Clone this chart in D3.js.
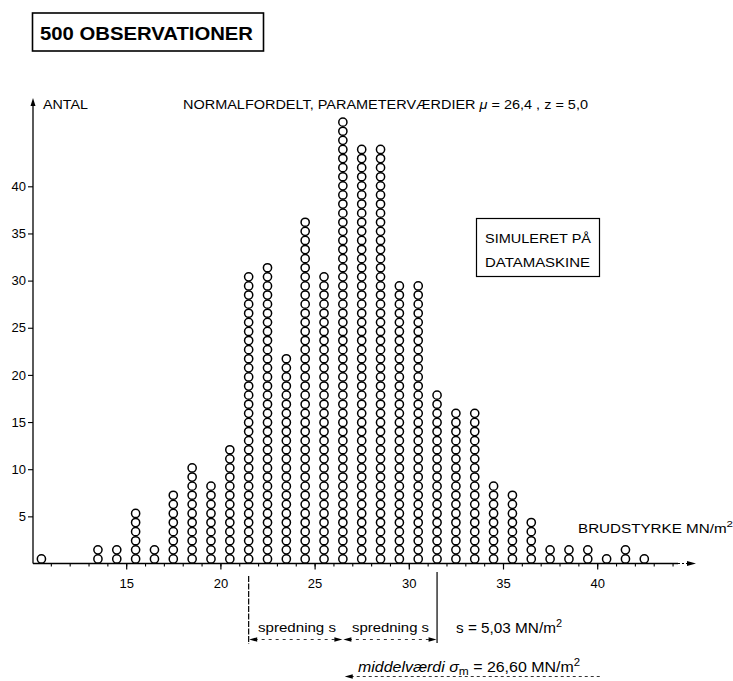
<!DOCTYPE html>
<html>
<head>
<meta charset="utf-8">
<script src="https://cdn.jsdelivr.net/npm/d3@7"></script>
<style>
  html, body { margin: 0; padding: 0; background: #fff; }
  svg { display: block; }
  text { font-family: "Liberation Sans", Arial, sans-serif; fill: #000; }
</style>
</head>
<body>
<svg id="chart" width="733" height="681"></svg>
<script>
// Class midpoints of breaking strength (MN/m²), one column of circles per class
const classMids = [10.5, 11.5, 12.5, 13.5, 14.5, 15.5, 16.5, 17.5, 18.5, 19.5, 20.5,
  21.5, 22.5, 23.5, 24.5, 25.5, 26.5, 27.5, 28.5, 29.5, 30.5, 31.5, 32.5, 33.5,
  34.5, 35.5, 36.5, 37.5, 38.5, 39.5, 40.5, 41.5, 42.5];
// Number of observations in each class (500 in total)
const counts = [1, 0, 0, 2, 2, 6, 2, 8, 11, 9, 13,
  32, 33, 23, 38, 32, 49, 46, 46, 31, 31, 19, 17, 17,
  9, 8, 5, 2, 2, 2, 1, 2, 1];
const yTicks = [5, 10, 15, 20, 25, 30, 35, 40];
const xTickLabels = [15, 20, 25, 30, 35, 40];
const xMinorTicks = d3.range(11, 45);

const mean = 26.60;     // middelværdi
const spread = 5.03;    // spredning s
const meanClass = 26.5, lowClass = 21.5, highClass = 31.5;

const svg = d3.select("#chart");

const x = d3.scaleLinear().domain([10, 44]).range([32, 32 + 34 * 18.84]);
const y = d3.scaleLinear().domain([0, 40]).range([563.5, 563.5 - 40 * 9.43]);
// vertical pitch of the stacked circles
const yStack = d3.scaleLinear().domain([0, 50]).range([563.5, 563.5 - 50 * 9.1]);

// --- title box
svg.append("rect").attr("x", 32.5).attr("y", 13).attr("width", 231).attr("height", 38)
  .attr("fill", "none").attr("stroke", "#000").attr("stroke-width", 1.6);
svg.append("text").attr("x", 40).attr("y", 40)
  .attr("font-size", 18).attr("font-weight", "bold")
  .attr("textLength", 213).attr("lengthAdjust", "spacingAndGlyphs")
  .text("500 OBSERVATIONER");

// --- header line
svg.append("text").attr("x", 43).attr("y", 108.5).attr("font-size", 12)
  .attr("textLength", 45).attr("lengthAdjust", "spacingAndGlyphs").text("ANTAL");
const head = svg.append("text").attr("x", 183).attr("y", 108.5).attr("font-size", 12.5)
  .attr("textLength", 405).attr("lengthAdjust", "spacingAndGlyphs");
head.append("tspan").text("NORMALFORDELT, PARAMETERVÆRDIER  ");
head.append("tspan").attr("font-style", "italic").text("μ");
head.append("tspan").text(" = 26,4 ,  z = 5,0");

// --- y axis
svg.append("line").attr("x1", 33).attr("x2", 33).attr("y1", y(0)).attr("y2", 104)
  .attr("stroke", "#000").attr("stroke-width", 1.3);
svg.append("path").attr("d", "M33,98 L30.5,106 L35.5,106 Z").attr("fill", "#000");
const yAxis = d3.axisLeft(y).tickValues(yTicks).tickSize(5).tickPadding(2);
const gy = svg.append("g").attr("transform", "translate(33,0)").call(yAxis);
gy.select(".domain").remove();
gy.selectAll(".tick line").attr("stroke", "#000").attr("stroke-width", 1.1);
gy.selectAll(".tick text").attr("font-size", 13).attr("font-family", "Liberation Sans, Arial, sans-serif")
  .attr("fill", "#000");

// --- x axis
svg.append("line").attr("x1", 33).attr("x2", 678).attr("y1", y(0)).attr("y2", y(0))
  .attr("stroke", "#000").attr("stroke-width", 1.3);
svg.append("line").attr("x1", 678).attr("x2", 688).attr("y1", y(0)).attr("y2", y(0))
  .attr("stroke", "#000").attr("stroke-width", 1).attr("stroke-dasharray", "2,2");
svg.append("path").attr("d", `M696,${y(0)} L687,${y(0) - 2.5} L687,${y(0) + 2.5} Z`).attr("fill", "#000");

const xAxisMinor = d3.axisBottom(x).tickValues(xMinorTicks).tickSize(3).tickFormat("");
const gxm = svg.append("g").attr("transform", `translate(0,${y(0)})`).call(xAxisMinor);
gxm.select(".domain").remove();
gxm.selectAll(".tick line").attr("stroke", "#000").attr("stroke-width", 1.1);

const xAxis = d3.axisBottom(x).tickValues(xTickLabels).tickSize(6).tickPadding(9);
const gx = svg.append("g").attr("transform", `translate(0,${y(0)})`).call(xAxis);
gx.select(".domain").remove();
gx.selectAll(".tick line").attr("stroke", "#000").attr("stroke-width", 1.2);
gx.selectAll(".tick text").attr("font-size", 13).attr("font-family", "Liberation Sans, Arial, sans-serif")
  .attr("fill", "#000");

// axis title
const xt = svg.append("text").attr("x", 578).attr("y", 532.5).attr("font-size", 12.5)
  .attr("textLength", 155).attr("lengthAdjust", "spacingAndGlyphs");
xt.append("tspan").text("BRUDSTYRKE  MN/m");
xt.append("tspan").attr("font-size", 9.5).attr("dy", -6).text("2");

// --- stacked circles, one per observation
const dots = [];
classMids.forEach((m, i) => {
  for (let k = 0; k < counts[i]; k++) dots.push({ m, k });
});
svg.append("g").selectAll("circle").data(dots).join("circle")
  .attr("cx", d => x(d.m))
  .attr("cy", d => yStack(d.k + 0.5))
  .attr("r", 4.1)
  .attr("fill", "#fff")
  .attr("stroke", "#000")
  .attr("stroke-width", 1.5);

// --- side box
svg.append("rect").attr("x", 476.5).attr("y", 218.5).attr("width", 123).attr("height", 58)
  .attr("fill", "none").attr("stroke", "#000").attr("stroke-width", 1.2);
svg.append("text").attr("x", 485).attr("y", 243).attr("font-size", 12.5)
  .attr("textLength", 106).attr("lengthAdjust", "spacingAndGlyphs").text("SIMULERET  PÅ");
svg.append("text").attr("x", 485).attr("y", 267).attr("font-size", 12.5)
  .attr("textLength", 105).attr("lengthAdjust", "spacingAndGlyphs").text("DATAMASKINE");

// --- spread annotation below the axis
const xl = x(lowClass), xm = x(meanClass), xh = x(highClass);
svg.append("line").attr("x1", xl).attr("x2", xl).attr("y1", 576).attr("y2", 644)
  .attr("stroke", "#000").attr("stroke-width", 1.2).attr("stroke-dasharray", "6,1.5");
svg.append("line").attr("x1", xh).attr("x2", xh).attr("y1", 572).attr("y2", 643)
  .attr("stroke", "#000").attr("stroke-width", 1.2);

function arrowHead(tipX, tipY, dir) {
  svg.append("path")
    .attr("d", `M${tipX},${tipY} L${tipX - dir * 8},${tipY - 2.2} L${tipX - dir * 8},${tipY + 2.2} Z`)
    .attr("fill", "#000");
}
const ay = 639.5;
[[xl, xm], [xm, xh]].forEach(([a, b]) => {
  svg.append("line").attr("x1", a + 6).attr("x2", b - 6).attr("y1", ay).attr("y2", ay)
    .attr("stroke", "#000").attr("stroke-width", 0.8).attr("stroke-dasharray", "3,4");
  arrowHead(a + 0.5, ay, -1);
  arrowHead(b - 0.5, ay, 1);
});
svg.append("text").attr("x", 258).attr("y", 632).attr("font-size", 12.5)
  .attr("textLength", 78).attr("lengthAdjust", "spacingAndGlyphs").text("spredning s");
svg.append("text").attr("x", 352).attr("y", 632).attr("font-size", 12.5)
  .attr("textLength", 77).attr("lengthAdjust", "spacingAndGlyphs").text("spredning s");
const st = svg.append("text").attr("x", 456).attr("y", 633).attr("font-size", 14)
  .attr("textLength", 106).attr("lengthAdjust", "spacingAndGlyphs");
st.append("tspan").text(`s = ${d3.format(".2f")(spread).replace(".", ",")} MN/m`);
st.append("tspan").attr("font-size", 10).attr("dy", -6).text("2");

// --- mean annotation
const xMean = x(mean);
const mt = svg.append("text").attr("x", 358).attr("y", 672).attr("font-size", 14)
  .attr("textLength", 222).attr("lengthAdjust", "spacingAndGlyphs");
mt.append("tspan").attr("font-style", "italic").text("middelværdi  ");
mt.append("tspan").attr("font-style", "italic").text("σ");
mt.append("tspan").attr("font-size", 10.5).attr("dy", 3).text("m");
mt.append("tspan").attr("dy", -3).text(` = ${d3.format(".2f")(mean).replace(".", ",")} MN/m`);
mt.append("tspan").attr("font-size", 10).attr("dy", -6).text("2");
svg.append("line").attr("x1", xMean + 6).attr("x2", 600).attr("y1", 676.5).attr("y2", 676.5)
  .attr("stroke", "#000").attr("stroke-width", 0.8).attr("stroke-dasharray", "3,3");
arrowHead(xMean, 676.5, -1);
</script>
</body>
</html>
